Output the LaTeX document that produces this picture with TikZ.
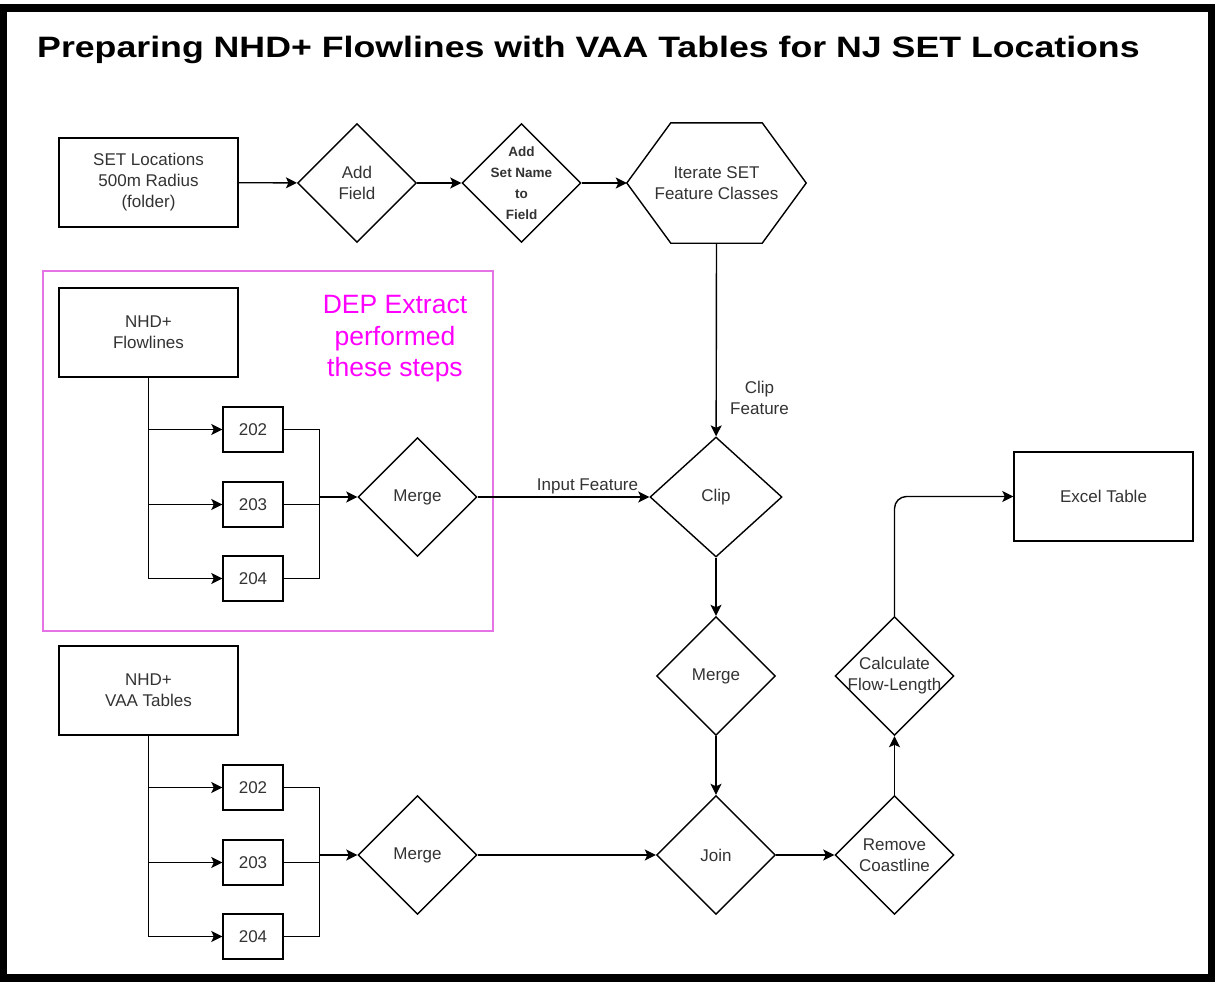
\documentclass[tikz,border=0pt]{standalone}
\usepackage{fontspec}
\setmainfont{Liberation Sans}
\usetikzlibrary{shapes.geometric,arrows.meta,calc}
\definecolor{ink}{HTML}{333333}
\definecolor{depline}{RGB}{230,115,230}
\definecolor{deptext}{HTML}{FF00FF}
\tikzset{
  txt/.style={text=ink, font=\fontsize{17}{21}\selectfont, align=center},
  box/.style={draw, line width=1.4pt, txt, inner sep=0pt, minimum width=179, minimum height=89},
  numbox/.style={draw, line width=1.4pt, txt, inner sep=0pt, minimum width=60, minimum height=45},
  dia/.style={diamond, draw, line width=1.4pt, inner sep=0pt, minimum width=119, minimum height=119},
  dlabel/.style={txt},
  conn/.style={line width=1.4pt},
  arr/.style={conn, -{Stealth[length=11pt, width=11pt, inset=2.5pt]}},
}
\begin{document}
\begin{tikzpicture}[x=1pt, y=-1pt]
  % page and heavy outer frame
  \useasboundingbox (0,0) rectangle (1215,982);
  \fill[white] (0,0) rectangle (1215,982);
  \fill[black] (0,4) rectangle (1215,982);
  \fill[white] (7,12) rectangle (1208,974);

  % heading
  \node[anchor=base west, inner sep=0pt, font=\fontsize{29.5}{34}\selectfont\bfseries] (title) at (37,58)
    {\scalebox{1.21}[1]{Preparing NHD+ Flowlines with VAA Tables for NJ SET Locations}};

  % area handled by the DEP extract
  \node[draw=depline, line width=2.6pt, minimum width=450, minimum height=360, inner sep=0pt] (dep) at (268,451) {};
  \node[text=deptext, font=\fontsize{26.5}{31.5}\selectfont, align=center] (deplabel) at (395,339)
    {DEP Extract\\performed\\these steps};

  % top row
  \node[box] (set) at (148.5,182.5) {SET Locations\\500m Radius\\(folder)};
  \node[dia, label={[dlabel]center:Add\\Field}] (addf) at (357,183) {};
  \node[dia, label={[txt, font=\fontsize{13.5}{21}\selectfont\bfseries]center:Add\\Set Name\\to\\Field}] (addn) at (521.5,183) {};
  \node[txt, inner sep=0pt, minimum width=179, minimum height=120] (iter) at (716.5,183) {Iterate SET\\Feature Classes};
  \draw[conn] (iter.west) -- ([xshift=44]iter.north west) -- ([xshift=-44]iter.north east)
    -- (iter.east) -- ([xshift=-44]iter.south east) -- ([xshift=44]iter.south west) -- cycle;

  \draw[arr] (set) -- (addf);
  \draw[arr] (addf) -- (addn);
  \draw[arr] (addn) -- (iter.west);

  % flowlines branch
  \node[box] (flow) at (148.5,332.5) {NHD+\\Flowlines};
  \node[numbox] (f202) at (253,429.5) {202};
  \node[numbox] (f203) at (253,504.5) {203};
  \node[numbox] (f204) at (253,578.5) {204};
  \node[dia, label={[dlabel]center:Merge}] (m1) at (417.5,497) {};
  \coordinate (j1) at (319.5,497);

  \draw[arr] (flow.south) |- (f204);
  \draw[arr] (flow.south |- f202) -- (f202);
  \draw[arr] (flow.south |- f203) -- (f203);
  \draw[conn] (f202.east) -| (j1) -- (j1 |- f204) -- (f204.east);
  \draw[conn] (f203.east) -- (f203.east -| j1);
  \draw[arr] (j1) -- (m1);

  % clipping and merging
  \node[dia, minimum width=132, minimum height=120, label={[dlabel]center:Clip}] (clip) at (716,497) {};
  \node[dia, label={[dlabel]center:Merge}] (m2) at (716,676) {};
  \node[dia, label={[dlabel]center:Join}] (join) at (716,855) {};
  \node[dia, label={[dlabel]center:Remove\\Coastline}] (rem) at (894.5,855) {};
  \node[dia, label={[dlabel]center:Calculate\\Flow-Length}] (calc) at (894.5,676) {};
  \node[box] (excel) at (1103.5,496.5) {Excel Table};

  \draw[arr] (iter.south) -- node[txt, pos=0.8, right=10pt] {Clip\\Feature} (clip);
  \draw[arr] (m1) -- node[txt, pos=0.64, above=-1pt] {Input Feature} (clip);
  \draw[arr] (clip) -- (m2);
  \draw[arr] (m2) -- (join);
  \draw[arr] (join) -- (rem);
  \draw[arr] (rem) -- (calc);
  \draw[arr, rounded corners=12pt] (calc.north) |- (excel.west);

  % value added attribute tables branch
  \node[box] (vaa) at (148.5,690.5) {NHD+\\VAA Tables};
  \node[numbox] (v202) at (253,787.5) {202};
  \node[numbox] (v203) at (253,862.5) {203};
  \node[numbox] (v204) at (253,936.5) {204};
  \node[dia, label={[dlabel]center:Merge}] (m3) at (417.5,855) {};
  \coordinate (j2) at (319.5,855);

  \draw[arr] (vaa.south) |- (v204);
  \draw[arr] (vaa.south |- v202) -- (v202);
  \draw[arr] (vaa.south |- v203) -- (v203);
  \draw[conn] (v202.east) -| (j2) -- (j2 |- v204) -- (v204.east);
  \draw[conn] (v203.east) -- (v203.east -| j2);
  \draw[arr] (j2) -- (m3);
  \draw[arr] (m3) -- (join);
\end{tikzpicture}
\end{document}
